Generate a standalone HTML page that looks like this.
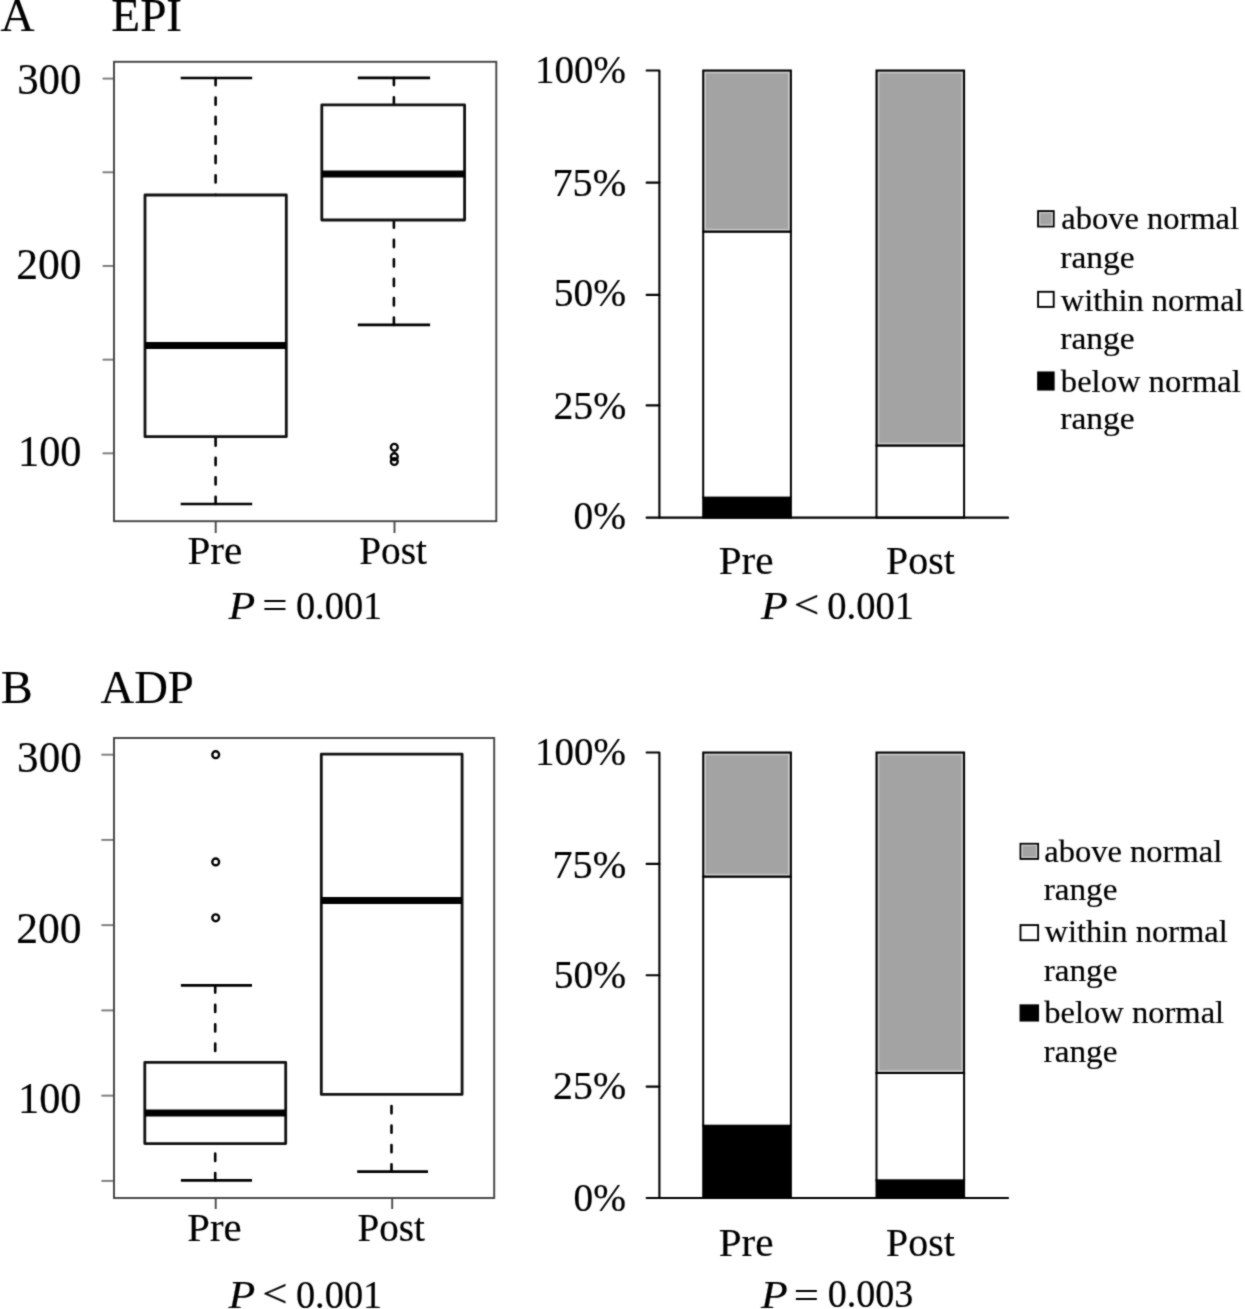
<!DOCTYPE html>
<html><head><meta charset="utf-8"><title>EPI and ADP: Pre vs Post</title>
<style>
html,body{margin:0;padding:0;background:#fff;width:1245px;height:1309px;overflow:hidden}
svg{display:block}
text{font-family:"Liberation Serif",serif;fill:#000;stroke:#000;stroke-width:0.2px}
.fr{fill:none;stroke:#424242;stroke-width:1.9}
.tk{stroke:#7a7a7a;stroke-width:1.9}
.tkx{stroke:#4a4a4a;stroke-width:1.9}
.bx{fill:none;stroke:#111;stroke-width:2.8;stroke-linejoin:round}
.md{stroke:#000;stroke-width:7.0}
.wk{stroke:#000;stroke-width:2.6;stroke-dasharray:7.3 12.15;stroke-linecap:round}
.cp{stroke:#000;stroke-width:2.7}
.ol{fill:none;stroke:#000;stroke-width:2.4}
.ax{stroke:#000;stroke-width:2.1;fill:none;stroke-linejoin:round;stroke-linecap:round}
.g{fill:#a3a3a3;stroke:#000;stroke-width:2}
.w{fill:#fff;stroke:#000;stroke-width:2}
.k{fill:#000;stroke:#000;stroke-width:2}
.lg{fill:#a3a3a3;stroke:#000;stroke-width:1.9}
.hl{fill:none;stroke:#cecece;stroke-width:1.2}
.lw{fill:#fff;stroke:#000;stroke-width:1.9}
.lk{fill:#000;stroke:#000;stroke-width:1.9}
</style></head>
<body>
<svg width="1245" height="1309" viewBox="0 0 1245 1309">
<defs><filter id="soft" x="0" y="0" width="1245" height="1309" filterUnits="userSpaceOnUse" color-interpolation-filters="sRGB"><feConvolveMatrix order="3" kernelMatrix="1 2 1 2 12 2 1 2 1" edgeMode="duplicate"/></filter></defs>
<g filter="url(#soft)">
<rect x="0" y="0" width="1245" height="1309" fill="#fff"/>
<line class="tk" x1="102.6" y1="78.6" x2="114" y2="78.6"/>
<line class="tk" x1="102.6" y1="172.28" x2="114" y2="172.28"/>
<line class="tk" x1="102.6" y1="265.96" x2="114" y2="265.96"/>
<line class="tk" x1="102.6" y1="359.64" x2="114" y2="359.64"/>
<line class="tk" x1="102.6" y1="453.32" x2="114" y2="453.32"/>
<line class="tkx" x1="215.7" y1="521.2" x2="215.7" y2="533"/>
<line class="tkx" x1="394.5" y1="521.2" x2="394.5" y2="533"/>
<rect class="fr" x="114" y="61.8" width="382.3" height="459.4"/>
<line class="wk" x1="215.6" y1="78" x2="215.6" y2="195"/>
<line class="cp" x1="180.7" y1="78" x2="252.2" y2="78"/>
<line class="wk" x1="215.6" y1="504" x2="215.6" y2="436.7"/>
<line class="cp" x1="180.7" y1="504" x2="252.2" y2="504"/>
<rect class="bx" x="145" y="195" width="141.3" height="241.7"/>
<line class="md" x1="145" y1="345.5" x2="286.3" y2="345.5"/>
<line class="wk" x1="393.9" y1="77.8" x2="393.9" y2="104.9"/>
<line class="cp" x1="357.8" y1="77.8" x2="430.1" y2="77.8"/>
<line class="wk" x1="393.9" y1="324.9" x2="393.9" y2="220"/>
<line class="cp" x1="357.8" y1="324.9" x2="430.1" y2="324.9"/>
<rect class="bx" x="321.8" y="104.9" width="142.8" height="115.1"/>
<line class="md" x1="321.8" y1="173.9" x2="464.6" y2="173.9"/>
<circle class="ol" cx="394.3" cy="447.3" r="3.4"/>
<circle class="ol" cx="394.3" cy="456.7" r="3.4"/>
<circle class="ol" cx="394.3" cy="461.5" r="3.4"/>
<rect class="k" x="703.2" y="497.6" width="87.7" height="20.05"/>
<rect class="w" x="703.2" y="231.6" width="87.7" height="266"/>
<rect class="g" x="703.2" y="70.5" width="87.7" height="161.1"/>
<rect class="hl" x="705.3" y="72.6" width="83.5" height="156.9"/>
<rect class="w" x="876.5" y="445.5" width="87.6" height="72.15"/>
<rect class="g" x="876.5" y="70.5" width="87.6" height="375"/>
<rect class="hl" x="878.6" y="72.6" width="83.4" height="370.8"/>
<path class="ax" d="M646.6 70.5 L659.4 70.5 L659.4 517.65 L1008.1 517.65"/>
<line class="ax" x1="646.6" y1="517.65" x2="659.4" y2="517.65"/>
<line class="ax" x1="646.6" y1="182.65" x2="659.4" y2="182.65"/>
<line class="ax" x1="646.6" y1="294.9" x2="659.4" y2="294.9"/>
<line class="ax" x1="646.6" y1="405.4" x2="659.4" y2="405.4"/>
<rect class="lg" x="1038.1" y="211.1" width="15.6" height="15.4"/>
<rect class="hl" x="1039.6" y="212.6" width="12.6" height="12.4"/>
<rect class="lw" x="1038.1" y="291.8" width="15.6" height="15.1"/>
<rect class="lk" x="1038.1" y="372.4" width="15.6" height="17.2"/>
<line class="tk" x1="101.4" y1="754.7" x2="114" y2="754.7"/>
<line class="tk" x1="101.4" y1="839.9" x2="114" y2="839.9"/>
<line class="tk" x1="101.4" y1="925.15" x2="114" y2="925.15"/>
<line class="tk" x1="101.4" y1="1010.4" x2="114" y2="1010.4"/>
<line class="tk" x1="101.4" y1="1095.65" x2="114" y2="1095.65"/>
<line class="tk" x1="101.4" y1="1180.9" x2="114" y2="1180.9"/>
<line class="tkx" x1="215.7" y1="1198" x2="215.7" y2="1209"/>
<line class="tkx" x1="392.2" y1="1198" x2="392.2" y2="1209"/>
<rect class="fr" x="114" y="738" width="380.2" height="460"/>
<line class="wk" x1="215.2" y1="985.3" x2="215.2" y2="1062.4"/>
<line class="cp" x1="180.9" y1="985.3" x2="252" y2="985.3"/>
<line class="wk" x1="215.2" y1="1180.4" x2="215.2" y2="1143.6"/>
<line class="cp" x1="180.9" y1="1180.4" x2="252" y2="1180.4"/>
<rect class="bx" x="144.8" y="1062.4" width="140.9" height="81.2"/>
<line class="md" x1="144.8" y1="1113" x2="285.7" y2="1113"/>
<line class="wk" x1="391.5" y1="1171.7" x2="391.5" y2="1094.4"/>
<line class="cp" x1="357.2" y1="1171.7" x2="428" y2="1171.7"/>
<rect class="bx" x="321.3" y="754.1" width="140.8" height="340.3"/>
<line class="md" x1="321.3" y1="900.5" x2="462.1" y2="900.5"/>
<circle class="ol" cx="215.7" cy="754.7" r="3.4"/>
<circle class="ol" cx="215.7" cy="861.9" r="3.4"/>
<circle class="ol" cx="215.7" cy="917.8" r="3.4"/>
<rect class="k" x="703.2" y="1125.7" width="87.7" height="72.25"/>
<rect class="w" x="703.2" y="876.6" width="87.7" height="249.1"/>
<rect class="g" x="703.2" y="752.5" width="87.7" height="124.1"/>
<rect class="hl" x="705.3" y="754.6" width="83.5" height="119.9"/>
<rect class="k" x="876.5" y="1180.3" width="87.6" height="17.65"/>
<rect class="w" x="876.5" y="1073" width="87.6" height="107.3"/>
<rect class="g" x="876.5" y="752.5" width="87.6" height="320.5"/>
<rect class="hl" x="878.6" y="754.6" width="83.4" height="316.3"/>
<path class="ax" d="M646.6 752.5 L659.4 752.5 L659.4 1197.95 L1008.1 1197.95"/>
<line class="ax" x1="646.6" y1="1197.95" x2="659.4" y2="1197.95"/>
<line class="ax" x1="646.6" y1="863.9" x2="659.4" y2="863.9"/>
<line class="ax" x1="646.6" y1="975.2" x2="659.4" y2="975.2"/>
<line class="ax" x1="646.6" y1="1086.6" x2="659.4" y2="1086.6"/>
<rect class="lg" x="1020.5" y="843.8" width="17.6" height="15.1"/>
<rect class="hl" x="1022" y="845.3" width="14.6" height="12.1"/>
<rect class="lw" x="1020.5" y="925.1" width="17.6" height="15.1"/>
<rect class="lk" x="1020.5" y="1005.3" width="17.6" height="15.3"/>
<text x="0.53" y="31.25" font-size="46.6" textLength="34.07" lengthAdjust="spacingAndGlyphs">A</text>
<text x="111.38" y="31.2" font-size="46.6" textLength="70.69" lengthAdjust="spacingAndGlyphs">EPI</text>
<text x="17.14" y="94.14" font-size="43.4" textLength="64.39" lengthAdjust="spacingAndGlyphs">300</text>
<text x="16.21" y="279.11" font-size="43.4" textLength="65.41" lengthAdjust="spacingAndGlyphs">200</text>
<text x="18.03" y="466.16" font-size="43.4" textLength="63.51" lengthAdjust="spacingAndGlyphs">100</text>
<text x="187.4" y="564" font-size="40.4" textLength="54.9" lengthAdjust="spacingAndGlyphs">Pre</text>
<text x="359.18" y="564" font-size="40.4" textLength="67.76" lengthAdjust="spacingAndGlyphs">Post</text>
<text x="228.64" y="618.53" font-size="40.4" textLength="26.74" lengthAdjust="spacingAndGlyphs"><tspan font-style="italic">P</tspan></text>
<text x="262.2" y="619.26" font-size="40.4" textLength="25.26" lengthAdjust="spacingAndGlyphs">=</text>
<text x="295.91" y="618.5" font-size="40.4" textLength="86.36" lengthAdjust="spacingAndGlyphs">0.001</text>
<text x="535.08" y="83.33" font-size="40.8" textLength="90.8" lengthAdjust="spacingAndGlyphs">100%</text>
<text x="552.45" y="195.99" font-size="40.8" textLength="73.79" lengthAdjust="spacingAndGlyphs">75%</text>
<text x="553.85" y="305.79" font-size="40.8" textLength="72.33" lengthAdjust="spacingAndGlyphs">50%</text>
<text x="553.45" y="418.5" font-size="40.8" textLength="72.75" lengthAdjust="spacingAndGlyphs">25%</text>
<text x="573.57" y="529" font-size="40.8" textLength="52.42" lengthAdjust="spacingAndGlyphs">0%</text>
<text x="718.65" y="574.4" font-size="40.4" textLength="54.92" lengthAdjust="spacingAndGlyphs">Pre</text>
<text x="886.12" y="574.06" font-size="40.4" textLength="68.61" lengthAdjust="spacingAndGlyphs">Post</text>
<text x="760.95" y="618.53" font-size="40.4" textLength="26.72" lengthAdjust="spacingAndGlyphs"><tspan font-style="italic">P</tspan></text>
<text x="793.83" y="618.29" font-size="40.4" textLength="25.55" lengthAdjust="spacingAndGlyphs">&lt;</text>
<text x="827.32" y="618.5" font-size="40.4" textLength="86.73" lengthAdjust="spacingAndGlyphs">0.001</text>
<text x="1061.24" y="228.91" font-size="32" textLength="177.83" lengthAdjust="spacingAndGlyphs">above normal</text>
<text x="1060.28" y="268.11" font-size="32" textLength="74.44" lengthAdjust="spacingAndGlyphs">range</text>
<text x="1060.82" y="311.22" font-size="32" textLength="182.9" lengthAdjust="spacingAndGlyphs">within normal</text>
<text x="1060.28" y="348.61" font-size="32" textLength="74.44" lengthAdjust="spacingAndGlyphs">range</text>
<text x="1060.87" y="391.81" font-size="32" textLength="180.02" lengthAdjust="spacingAndGlyphs">below normal</text>
<text x="1060.28" y="429.26" font-size="32" textLength="74.44" lengthAdjust="spacingAndGlyphs">range</text>
<text x="0.71" y="702.8" font-size="46.6" textLength="32" lengthAdjust="spacingAndGlyphs">B</text>
<text x="100.54" y="702.5" font-size="46.6" textLength="93.28" lengthAdjust="spacingAndGlyphs">ADP</text>
<text x="17.11" y="771.66" font-size="43.4" textLength="64.66" lengthAdjust="spacingAndGlyphs">300</text>
<text x="16.21" y="943.4" font-size="43.4" textLength="65.41" lengthAdjust="spacingAndGlyphs">200</text>
<text x="18.03" y="1113.41" font-size="43.4" textLength="63.51" lengthAdjust="spacingAndGlyphs">100</text>
<text x="187.27" y="1240.8" font-size="40.4" textLength="54.25" lengthAdjust="spacingAndGlyphs">Pre</text>
<text x="357.59" y="1240.5" font-size="40.4" textLength="67.38" lengthAdjust="spacingAndGlyphs">Post</text>
<text x="228.64" y="1307.54" font-size="40.4" textLength="26.74" lengthAdjust="spacingAndGlyphs"><tspan font-style="italic">P</tspan></text>
<text x="262.16" y="1307.19" font-size="40.4" textLength="25.28" lengthAdjust="spacingAndGlyphs">&lt;</text>
<text x="295.91" y="1307.62" font-size="40.4" textLength="86.36" lengthAdjust="spacingAndGlyphs">0.001</text>
<text x="535.08" y="765.33" font-size="40.8" textLength="90.8" lengthAdjust="spacingAndGlyphs">100%</text>
<text x="552.45" y="877.99" font-size="40.8" textLength="73.79" lengthAdjust="spacingAndGlyphs">75%</text>
<text x="553.85" y="987.79" font-size="40.8" textLength="72.33" lengthAdjust="spacingAndGlyphs">50%</text>
<text x="553.11" y="1098.7" font-size="40.8" textLength="72.97" lengthAdjust="spacingAndGlyphs">25%</text>
<text x="573.57" y="1210.87" font-size="40.8" textLength="52.42" lengthAdjust="spacingAndGlyphs">0%</text>
<text x="718.65" y="1256.4" font-size="40.4" textLength="54.92" lengthAdjust="spacingAndGlyphs">Pre</text>
<text x="886.12" y="1256.06" font-size="40.4" textLength="68.61" lengthAdjust="spacingAndGlyphs">Post</text>
<text x="760.95" y="1307.54" font-size="40.4" textLength="26.72" lengthAdjust="spacingAndGlyphs"><tspan font-style="italic">P</tspan></text>
<text x="793.8" y="1308.64" font-size="40.4" textLength="25.26" lengthAdjust="spacingAndGlyphs">=</text>
<text x="827.66" y="1307.14" font-size="40.4" textLength="85.75" lengthAdjust="spacingAndGlyphs">0.003</text>
<text x="1044.29" y="862.01" font-size="32" textLength="177.94" lengthAdjust="spacingAndGlyphs">above normal</text>
<text x="1043.69" y="899.54" font-size="32" textLength="73.8" lengthAdjust="spacingAndGlyphs">range</text>
<text x="1044.6" y="942.35" font-size="32" textLength="183.08" lengthAdjust="spacingAndGlyphs">within normal</text>
<text x="1043.69" y="980.99" font-size="32" textLength="73.8" lengthAdjust="spacingAndGlyphs">range</text>
<text x="1044.16" y="1023.34" font-size="32" textLength="180" lengthAdjust="spacingAndGlyphs">below normal</text>
<text x="1043.6" y="1062.32" font-size="32" textLength="73.83" lengthAdjust="spacingAndGlyphs">range</text>
</g>
</svg>
</body></html>
